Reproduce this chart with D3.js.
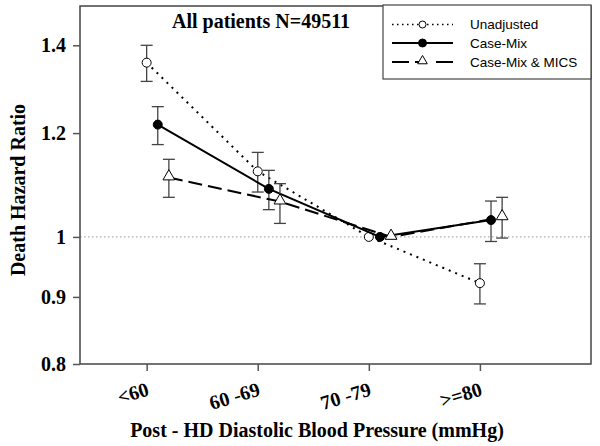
<!DOCTYPE html>
<html><head><meta charset="utf-8">
<script src="https://cdn.jsdelivr.net/npm/d3@7"></script>
<style>body{margin:0;background:#fff}svg{display:block}</style>
</head><body>
<svg id="c" width="600" height="446"></svg>
<script>
const categories = ["<60", "60 -69", "70 -79", ">=80"];
const unadjusted = [1.358, 1.122, 1.0, 0.922];
const unadjustedLo = [1.314, 1.082, null, 0.889];
const unadjustedHi = [1.400, 1.160, null, 0.954];
const caseMix = [1.218, 1.088, 1.0, 1.030];
const caseMixLo = [1.176, 1.049, null, 0.992];
const caseMixHi = [1.257, 1.124, null, 1.065];
const mics = [1.110, 1.064, 1.0, 1.035];
const micsLo = [1.072, 1.024, null, 0.998];
const micsHi = [1.146, 1.098, null, 1.072];
const yTicks = [0.8, 0.9, 1, 1.2, 1.4];
const seriesNames = ["Unadjusted", "Case-Mix", "Case-Mix & MICS"];

const svg = d3.select("#c");
const L = 80, R = 591, T = 6, B = 364;
const x = d3.scaleLinear().domain([0.4, 5]).range([L, R]);
const y = d3.scaleLog().domain([0.8, 1.5]).range([B, T]);
const serif = "'Liberation Serif','Times New Roman',serif";
const sans = "'Liberation Sans',Arial,sans-serif";

// reference line
svg.append("line").attr("x1", L).attr("x2", R).attr("y1", y(1)).attr("y2", y(1))
  .attr("stroke", "#999").attr("stroke-width", 1).attr("stroke-dasharray", "1.5,2.5");

// frame
svg.append("rect").attr("x", L).attr("y", T).attr("width", R - L).attr("height", B - T)
  .attr("fill", "none").attr("stroke", "#444").attr("stroke-width", 1.5);

// axes
const yAxis = d3.axisLeft(y).tickValues(yTicks).tickFormat(d3.format("")).tickSize(7).tickPadding(7);
const gy = svg.append("g").attr("transform", `translate(${L},0)`).call(yAxis);
gy.select(".domain").remove();
gy.selectAll("line").attr("stroke", "#555").attr("stroke-width", 1.5);
gy.selectAll("text").attr("font-family", serif).attr("font-weight", "bold").attr("font-size", 20).attr("fill", "#000");

const xAxis = d3.axisBottom(x).tickValues([1, 2, 3, 4]).tickFormat((d) => categories[d - 1]).tickSize(7);
const gx = svg.append("g").attr("transform", `translate(0,${B})`).call(xAxis);
gx.select(".domain").remove();
gx.selectAll("line").attr("stroke", "#555").attr("stroke-width", 1.5);
gx.selectAll("text").attr("font-family", serif).attr("font-weight", "bold").attr("font-size", 20).attr("fill", "#000")
  .attr("text-anchor", "end").attr("dy", 0).attr("y", 0)
  .attr("transform", "translate(3,31) rotate(-17)");

// titles
svg.append("text").attr("x", 317).attr("y", 437).attr("text-anchor", "middle")
  .attr("font-family", serif).attr("font-weight", "bold").attr("font-size", 20).text("Post - HD Diastolic Blood Pressure (mmHg)");
svg.append("text").attr("transform", "translate(25,190) rotate(-90)").attr("text-anchor", "middle")
  .attr("font-family", serif).attr("font-weight", "bold").attr("font-size", 20).text("Death Hazard Ratio");
svg.append("text").attr("x", 261).attr("y", 28).attr("text-anchor", "middle")
  .attr("font-family", serif).attr("font-weight", "bold").attr("font-size", 20).text("All patients N=49511");

const series = [
  { v: unadjusted, lo: unadjustedLo, hi: unadjustedHi, off: 0, dash: "2,5", cap: "butt", marker: "open" },
  { v: caseMix, lo: caseMixLo, hi: caseMixHi, off: 0.1, dash: null, cap: "butt", marker: "filled" },
  { v: mics, lo: micsLo, hi: micsHi, off: 0.2, dash: "14,6", cap: "butt", marker: "tri" }
];

const line = d3.line().x((d) => x(d[0])).y((d) => y(d[1]));
series.forEach((s) => {
  const pts = s.v.map((v, i) => [i + 1 + s.off, v]);
  // error bars
  s.v.forEach((v, i) => {
    if (s.lo[i] == null) return;
    const cx = x(i + 1 + s.off);
    const g = svg.append("g").attr("stroke", "#444").attr("stroke-width", 1.3);
    g.append("line").attr("x1", cx).attr("x2", cx).attr("y1", y(s.lo[i])).attr("y2", y(s.hi[i]));
    g.append("line").attr("x1", cx - 6).attr("x2", cx + 6).attr("y1", y(s.lo[i])).attr("y2", y(s.lo[i]));
    g.append("line").attr("x1", cx - 6).attr("x2", cx + 6).attr("y1", y(s.hi[i])).attr("y2", y(s.hi[i]));
  });
  svg.append("path").attr("d", line(pts)).attr("fill", "none").attr("stroke", "#000")
    .attr("stroke-width", 2).attr("stroke-dasharray", s.dash).attr("stroke-linecap", s.cap);
  pts.forEach((p) => {
    const px = x(p[0]), py = y(p[1]);
    if (s.marker === "tri") {
      svg.append("path").attr("d", d3.symbol(d3.symbolTriangle, 60)()).attr("transform", `translate(${px},${py - 1})`)
        .attr("fill", "#fff").attr("stroke", "#000").attr("stroke-width", 1);
    } else {
      svg.append("circle").attr("cx", px).attr("cy", py).attr("r", 4.5)
        .attr("fill", s.marker === "filled" ? "#000" : "#fff").attr("stroke", "#000").attr("stroke-width", 1);
    }
  });
});

// legend
const lg = svg.append("g");
lg.append("rect").attr("x", 383).attr("y", 5).attr("width", 208).attr("height", 74)
  .attr("fill", "#fff").attr("stroke", "#444").attr("stroke-width", 1.2);
const rowY = [24.5, 43, 62];
series.forEach((s, i) => {
  const yy = rowY[i];
  if (s.marker === "tri") {
    lg.append("line").attr("x1", 392).attr("x2", 409).attr("y1", yy).attr("y2", yy).attr("stroke", "#000").attr("stroke-width", 2);
    lg.append("line").attr("x1", 415).attr("x2", 421).attr("y1", yy).attr("y2", yy).attr("stroke", "#000").attr("stroke-width", 2);
    lg.append("line").attr("x1", 436).attr("x2", 453).attr("y1", yy).attr("y2", yy).attr("stroke", "#000").attr("stroke-width", 2);
  } else {
    lg.append("line").attr("x1", 392).attr("x2", 453).attr("y1", yy).attr("y2", yy).attr("stroke", "#000")
      .attr("stroke-width", s.marker === "open" ? 1.5 : 2).attr("stroke-dasharray", s.marker === "open" ? "1.5,3.5" : null)
      .attr("stroke-linecap", "butt");
  }
  if (s.marker === "tri") {
    lg.append("path").attr("d", d3.symbol(d3.symbolTriangle, 40)()).attr("transform", `translate(422.5,${yy - 1})`)
      .attr("fill", "#fff").attr("stroke", "#000").attr("stroke-width", 1);
  } else {
    lg.append("circle").attr("cx", 422.5).attr("cy", yy).attr("r", s.marker === "open" ? 3.5 : 4)
      .attr("fill", s.marker === "filled" ? "#000" : "#fff").attr("stroke", "#000").attr("stroke-width", 1);
  }
  lg.append("text").attr("x", 470).attr("y", yy + 4.5).attr("font-family", sans).attr("font-size", 13.5).text(seriesNames[i]);
});
</script>
</body></html>
